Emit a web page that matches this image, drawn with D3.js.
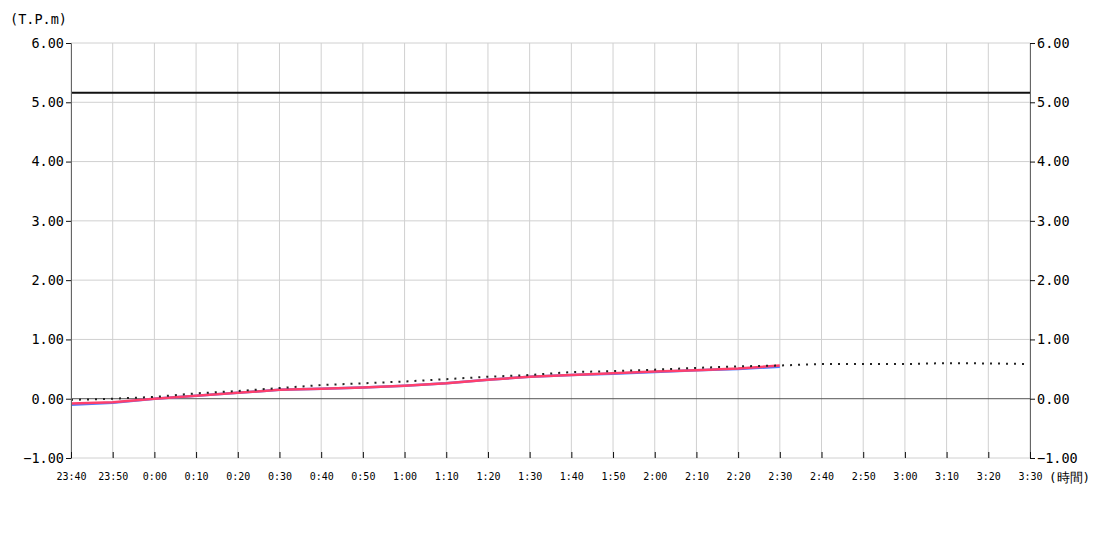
<!DOCTYPE html>
<html>
<head>
<meta charset="utf-8">
<script src="https://cdn.jsdelivr.net/npm/d3@7"></script>
<style>
  body { margin: 0; background: #fff; }
  text { font-family: "DejaVu Sans Mono", monospace; fill: #000; }
</style>
</head>
<body>
<div id="viz"></div>
<script>
// time labels, every 10 minutes from 23:40 to 3:30
const timeLabels = ['23:40', '23:50', '0:00', '0:10', '0:20', '0:30', '0:40', '0:50',
  '1:00', '1:10', '1:20', '1:30', '1:40', '1:50', '2:00', '2:10', '2:20', '2:30',
  '2:40', '2:50', '3:00', '3:10', '3:20', '3:30'];

// observed tide (red) and second observed series (blue)
const observed = [-0.08, -0.06, 0.00, 0.05, 0.10, 0.15, 0.17, 0.19, 0.22, 0.26,
  0.32, 0.37, 0.40, 0.43, 0.46, 0.48, 0.51, 0.56];
const observed2 = [-0.10, -0.07, 0.00, 0.05, 0.10, 0.15, 0.17, 0.19, 0.22, 0.26,
  0.32, 0.37, 0.40, 0.42, 0.45, 0.48, 0.50, 0.54];

// predicted tide (dotted)
const predicted = [-0.02, 0.00, 0.03, 0.09, 0.13, 0.18, 0.23, 0.26, 0.29, 0.33,
  0.37, 0.40, 0.45, 0.465, 0.49, 0.52, 0.545, 0.56, 0.585, 0.585, 0.585, 0.60, 0.595, 0.585];

// reference level (black)
const warnLevel = 5.16;

const yTicks = [-1, 0, 1, 2, 3, 4, 5, 6];

const margin = { top: 43, right: 70, bottom: 92, left: 71 },
  width = 1100 - margin.left - margin.right,
  height = 550 - margin.top - margin.bottom;

// turn labels into dates (times after midnight belong to next day)
const dates = timeLabels.map(function (t) {
  const p = t.split(':');
  const h = +p[0];
  return new Date(2024, 0, h >= 12 ? 1 : 2, h, +p[1]);
});

const xScale = d3.scaleTime()
  .domain([dates[0], dates[dates.length - 1]])
  .range([0, width]);

const yScale = d3.scaleLinear()
  .domain([-1, 6])
  .range([height, 0]);

const svg = d3.select('#viz')
  .append('svg')
  .attr('width', 1100)
  .attr('height', 550);

const g = svg.append('g')
  .attr('transform', 'translate(' + margin.left + ',' + margin.top + ')');

// grid
g.append('g')
  .selectAll('line')
  .data(dates)
  .enter().append('line')
  .attr('x1', d => xScale(d))
  .attr('x2', d => xScale(d))
  .attr('y1', 0)
  .attr('y2', height)
  .attr('stroke', '#d0d0d0')
  .attr('stroke-width', 1);

g.append('g')
  .selectAll('line')
  .data(yTicks)
  .enter().append('line')
  .attr('x1', 0)
  .attr('x2', width)
  .attr('y1', d => yScale(d))
  .attr('y2', d => yScale(d))
  .attr('stroke', d => d === 0 ? '#555' : '#d0d0d0')
  .attr('stroke-width', 1);

const line = d3.line()
  .x((d, i) => xScale(dates[i]))
  .y(d => yScale(d));

g.append('path')
  .datum(observed2)
  .attr('d', line)
  .attr('fill', 'none')
  .attr('stroke', '#4d7bff')
  .attr('stroke-width', 2.5);

g.append('path')
  .datum(observed)
  .attr('d', line)
  .attr('fill', 'none')
  .attr('stroke', '#ff3f6c')
  .attr('stroke-width', 2.5);

g.append('path')
  .datum(predicted)
  .attr('d', line)
  .attr('fill', 'none')
  .attr('stroke', '#222')
  .attr('stroke-width', 2)
  .attr('stroke-dasharray', '2,6');

g.append('line')
  .attr('x1', 0)
  .attr('x2', width)
  .attr('y1', yScale(warnLevel))
  .attr('y2', yScale(warnLevel))
  .attr('stroke', '#111')
  .attr('stroke-width', 2);

// axes
const fmt = d3.format('.2f');

const yLeft = g.append('g')
  .call(d3.axisLeft(yScale).tickValues(yTicks).tickFormat(fmt).tickSize(5).tickPadding(2));
const yRight = g.append('g')
  .attr('transform', 'translate(' + width + ',0)')
  .call(d3.axisRight(yScale).tickValues(yTicks).tickFormat(fmt).tickSize(5).tickPadding(2));

[yLeft, yRight].forEach(function (ax) {
  ax.select('.domain').attr('stroke', '#666');
  ax.selectAll('.tick line').attr('stroke', '#111');
  ax.selectAll('text').style('font-size', '13.5px');
});

const xAxis = g.append('g')
  .attr('transform', 'translate(0,' + height + ')')
  .call(d3.axisTop(xScale)
    .tickValues(dates)
    .tickFormat((d, i) => timeLabels[i])
    .tickSize(6));
xAxis.select('.domain').remove();
xAxis.selectAll('.tick line').attr('stroke', '#111');
xAxis.selectAll('text')
  .attr('y', 22)
  .style('font-size', '10px');

svg.append('text')
  .attr('x', 10)
  .attr('y', 24)
  .style('font-size', '13.5px')
  .text('(T.P.m)');

svg.append('text')
  .attr('x', 1049)
  .attr('y', 482)
  .style('font-size', '12.5px')
  .text('(時間)');
</script>
</body>
</html>
